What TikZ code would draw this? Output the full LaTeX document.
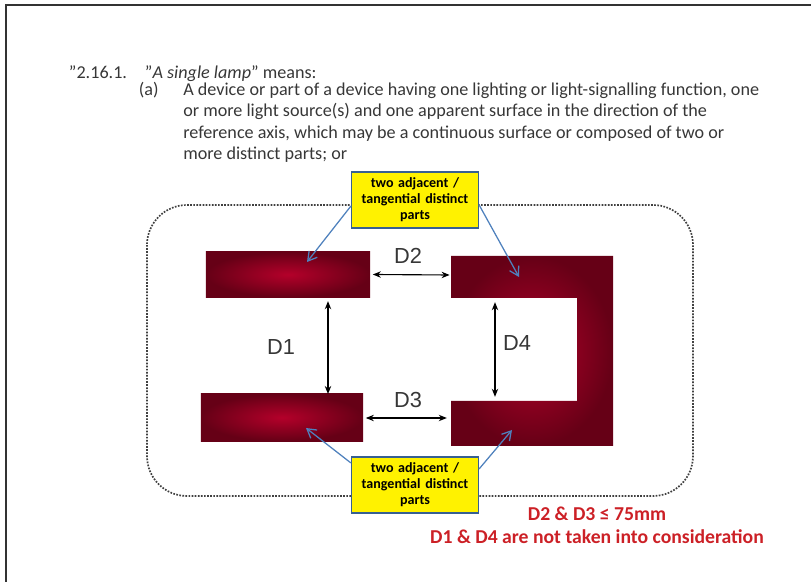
\documentclass[tikz,border=0pt]{standalone}
\usepackage{fontspec}
\setmainfont{Carlito}
\newfontfamily\arialfont{Liberation Sans}
\usetikzlibrary{arrows.meta}
\definecolor{lampdark}{RGB}{102,0,22}
\definecolor{lamplight}{RGB}{180,0,42}
\definecolor{calloutblue}{RGB}{79,129,189}
\definecolor{calloutedge}{RGB}{55,96,146}
\definecolor{notered}{RGB}{204,32,38}
\definecolor{textgray}{RGB}{55,55,55}

\begin{document}
\begin{tikzpicture}[x=0.025cm, y=-0.025cm,
	lamp/.style={inner sep=0pt, outer sep=0pt, inner color=lamplight, outer color=lampdark},
	body/.style={text=textgray, font=\fontsize{12.9}{15.2}\selectfont},
	callout/.style={draw=calloutedge, line width=0.9pt, fill=yellow, text width=3.1cm, minimum height=1.4cm, align=center, inner sep=1pt, font=\fontsize{10}{11.3}\selectfont\bfseries},
	dist/.style={{Stealth[length=2mm,width=1.6mm]}-{Stealth[length=2mm,width=1.6mm]}, line width=0.8pt},
	pointer/.style={-{Straight Barb[length=2.2mm,width=2.6mm]}, draw=calloutblue, line width=0.9pt},
	dlabel/.style={font=\arialfont\fontsize{15.5}{15.5}\selectfont, text=textgray},
	note/.style={font=\fontsize{14}{16}\selectfont\bfseries, text=notered}]
	\useasboundingbox (0,0) rectangle (811,582);
	\draw[line width=1.5pt, draw=black!80] (811,5) -- (6,5) -- (6,582);

	% clause text
	\node[body, anchor=base west] (clause) at (64,79) {"2.16.1.};
	\node[body, anchor=base west] (title) at (140,79) {"\textit{A single lamp}" means:};
	\node[body, anchor=base west] (item) at (134,96) {(a)};
	\node[body, anchor=north west, inner sep=0pt, align=left] (para) at (183,82.5)
		{A device or part of a device having one lighting or light-signalling function, one\\
		 or more light source(s) and one apparent surface in the direction of the\\
		 reference axis, which may be a continuous surface or composed of two or\\
		 more distinct parts; or};

	% outline of the lamp
	\draw[densely dotted, line width=1.2pt, draw=black!75, rounded corners=1cm] (147,205) rectangle (693,496);

	% the distinct parts
	\node[lamp, minimum width=4.1cm, minimum height=1.125cm] (topbar) at (288,274.5) {};
	\node[lamp, minimum width=4.05cm, minimum height=1.175cm] (lowbar) at (282,417.5) {};
	\path[lamp] (451,256) -| (613,446) -| (451,401) -- (577,401) |- (451,298) -- cycle;
	\coordinate (cupper) at (451,275);
	\coordinate (clower) at (451,418);
	\coordinate (cnotchtop) at (495,298);
	\coordinate (cnotchbot) at (495,401);

	% distances
	\draw[dist] ([xshift=2pt]topbar.east) -- ([xshift=-1pt]cupper);
	\draw[dist] ([xshift=2pt]lowbar.east |- clower) -- ([xshift=-3pt]clower);
	\draw[dist] ([yshift=-3pt]topbar.south -| 328,0) -- (lowbar.north -| 328,0);
	\draw[dist] ([yshift=-3pt]cnotchtop) -- ([yshift=3pt]cnotchbot);
	\node[dlabel] (d1) at (281,347) {D1};
	\node[dlabel] (d2) at (408,256) {D2};
	\node[dlabel] (d3) at (408,400) {D3};
	\node[dlabel] (d4) at (517,343) {D4};

	% callouts
	\node[callout] (topnote) at (415,200) {two adjacent /\\ tangential distinct\\ parts};
	\node[callout] (lownote) at (415,485) {two adjacent /\\ tangential distinct\\ parts};
	\coordinate (tipa) at (307,262);
	\coordinate (tipb) at (519,277);
	\coordinate (tipc) at (306,428);
	\coordinate (tipd) at (512,430);
	\draw[pointer] ([yshift=-0.15cm]topnote.west) -- (tipa);
	\draw[pointer] ([yshift=-0.12cm]topnote.east) -- (tipb);
	\draw[pointer] ([yshift=0.55cm]lownote.west) -- (tipc);
	\draw[pointer] ([yshift=0.4cm]lownote.east) -- (tipd);

	% conditions
	\node[note] (cond) at (597,514) {D2 \& D3 ≤ 75mm};
	\node[note] (ignore) at (597,537) {D1 \& D4 are not taken into consideration};
\end{tikzpicture}
\end{document}
